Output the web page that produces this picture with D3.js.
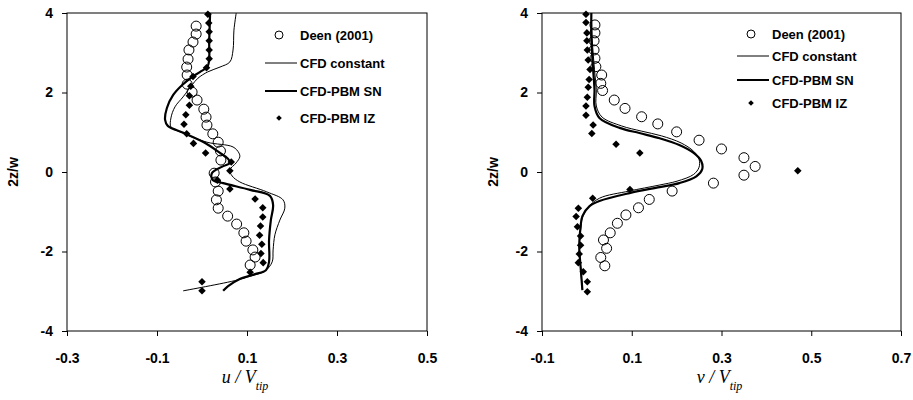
<!DOCTYPE html>
<html>
<head>
<meta charset="utf-8">
<script src="https://cdn.jsdelivr.net/npm/d3@7"></script>
<style>
body { margin: 0; background: #fff; }
svg text { font-family: Arial, "Liberation Sans", sans-serif; }
</style>
</head>
<body>
<svg width="913" height="400"></svg>
<script>
'use strict';

// tick values
var zTicks = [-4, -2, 0, 2, 4];
var uTicks = [-0.3, -0.1, 0.1, 0.3, 0.5];
var vTicks = [-0.1, 0.1, 0.3, 0.5, 0.7];

var legendNames = ["Deen (2001)", "CFD constant", "CFD-PBM SN", "CFD-PBM IZ"];

// left panel, [u, 2z/w]
var deenU = [[-0.013,3.67],[-0.013,3.47],[-0.020,3.27],[-0.029,3.07],[-0.031,2.84],[-0.034,2.64],
  [-0.033,2.44],[-0.033,2.21],[-0.022,2.01],[-0.011,1.81],[0.004,1.58],[0.009,1.38],[0.011,1.18],
  [0.024,0.96],[0.036,0.75],[0.041,0.53],[0.042,0.30],[0.027,-0.03],[0.030,-0.25],[0.036,-0.48],
  [0.032,-0.70],[0.036,-0.91],[0.057,-1.11],[0.077,-1.31],[0.093,-1.53],[0.098,-1.74],
  [0.113,-1.96],[0.118,-2.14],[0.107,-2.34]];
var constU = [[0.076,4.0],[0.071,3.57],[0.069,3.07],[0.062,2.77],[0.040,2.64],[0.013,2.52],
  [-0.009,2.36],[-0.022,2.19],[-0.042,1.89],[-0.060,1.64],[-0.069,1.36],[-0.069,1.13],
  [-0.049,1.01],[0.011,0.75],[0.069,0.63],[0.082,0.48],[0.084,0.38],[0.076,0.23],[0.062,0.05],
  [0.067,-0.10],[0.084,-0.25],[0.144,-0.50],[0.180,-0.70],[0.184,-0.91],[0.173,-1.21],
  [0.162,-1.58],[0.158,-1.96],[0.156,-2.26],[0.140,-2.49],[0.107,-2.62],[0.078,-2.72],[-0.042,-2.99]];
var snU = [[0.018,4.0],[0.016,3.32],[0.013,2.67],[-0.004,2.52],[-0.022,2.39],[-0.044,2.19],
  [-0.064,1.94],[-0.078,1.61],[-0.082,1.31],[-0.076,1.16],[-0.040,0.98],[0.007,0.73],
  [0.040,0.48],[0.058,0.33],[0.062,0.23],[0.044,0.13],[0.022,-0.03],[0.024,-0.20],[0.047,-0.28],
  [0.107,-0.45],[0.151,-0.60],[0.158,-0.83],[0.153,-1.21],[0.149,-1.71],[0.149,-2.26],
  [0.142,-2.47],[0.118,-2.57],[0.084,-2.69],[0.058,-2.87],[0.047,-2.99]];
var izU = [[0.013,3.97],[0.015,3.75],[0.016,3.53],[0.016,3.30],[0.016,3.07],[0.016,2.85],
  [0.010,2.62],[-0.020,2.40],[-0.025,2.16],[-0.028,1.92],[-0.028,1.68],[-0.036,1.44],
  [-0.040,1.20],[-0.034,0.96],[-0.019,0.72],[0.008,0.48],[0.065,0.25],[0.062,0.03],
  [0.034,-0.21],[0.062,-0.43],[0.118,-0.68],[0.135,-0.90],[0.135,-1.13],[0.130,-1.36],
  [0.128,-1.59],[0.133,-1.82],[0.131,-2.05],[0.136,-2.28],[0.107,-2.52],[0.0,-2.76],[0.0,-2.99]];

// right panel, [v, 2z/w]
var deenV = [[0.018,3.70],[0.018,3.50],[0.016,3.30],[0.016,3.07],[0.018,2.86],[0.020,2.65],
  [0.033,2.44],[0.031,2.23],[0.035,2.05],[0.061,1.81],[0.085,1.60],[0.122,1.39],[0.158,1.21],
  [0.200,1.01],[0.250,0.80],[0.300,0.58],[0.350,0.36],[0.375,0.14],[0.350,-0.08],[0.282,-0.28],
  [0.190,-0.48],[0.139,-0.69],[0.115,-0.90],[0.087,-1.08],[0.068,-1.29],[0.052,-1.53],
  [0.037,-1.71],[0.044,-1.92],[0.031,-2.15],[0.040,-2.36]];
var constV = [[0.010,4.0],[0.012,3.32],[0.017,2.57],[0.021,2.07],[0.021,1.66],[0.034,1.38],
  [0.077,1.16],[0.121,1.03],[0.166,0.91],[0.210,0.73],[0.238,0.52],[0.250,0.32],[0.250,0.12],
  [0.238,-0.06],[0.201,-0.23],[0.161,-0.33],[0.094,-0.48],[0.028,-0.66],[0.001,-0.91],
  [-0.010,-1.16],[-0.014,-1.46],[-0.017,-1.88],[-0.014,-2.38],[-0.010,-2.97]];
var snV = [[0.010,4.0],[0.010,3.32],[0.014,2.57],[0.017,2.07],[0.017,1.66],[0.028,1.36],
  [0.073,1.11],[0.117,0.98],[0.162,0.85],[0.206,0.68],[0.238,0.48],[0.255,0.27],[0.257,0.07],
  [0.244,-0.11],[0.206,-0.28],[0.162,-0.38],[0.095,-0.53],[0.028,-0.73],[0.006,-0.86],
  [-0.010,-1.11],[-0.014,-1.38],[-0.017,-1.88],[-0.014,-2.38],[-0.010,-2.97]];
var izV = [[-0.002,3.97],[-0.002,3.76],[0.0,3.50],[0.0,3.30],[0.001,3.07],[0.003,2.82],
  [0.007,2.58],[0.005,2.33],[0.003,2.13],[0.001,1.88],[-0.002,1.66],[-0.002,1.43],
  [0.014,1.18],[0.011,0.97],[0.065,0.70],[0.118,0.48],[0.470,0.03],[0.096,-0.44],
  [0.013,-0.66],[-0.019,-0.91],[-0.024,-1.12],[-0.021,-1.38],[-0.014,-1.61],[-0.014,-1.84],
  [-0.017,-2.06],[-0.019,-2.28],[-0.008,-2.51],[0.001,-2.76],[0.001,-3.01]];

var svg = d3.select("svg");
var plotTop = 13, plotBottom = 331;

function drawPanel(opt) {
  var x = d3.scaleLinear().domain([opt.ticks[0], opt.ticks[opt.ticks.length - 1]]).range([opt.left, opt.right]);
  var y = d3.scaleLinear().domain([-4, 4]).range([plotBottom, plotTop]);
  var g = svg.append("g");

  // frame
  g.append("rect")
    .attr("x", opt.left).attr("y", plotTop)
    .attr("width", opt.right - opt.left).attr("height", plotBottom - plotTop)
    .attr("fill", "none").attr("stroke", "#000").attr("stroke-width", 1);

  var xAxis = g.append("g")
    .attr("transform", "translate(0," + plotBottom + ")")
    .call(d3.axisBottom(x).tickValues(opt.ticks).tickSize(5).tickPadding(17)
      .tickFormat(function(d) { return d3.format(".1f")(d).replace("−", "-"); }));
  var yAxis = g.append("g")
    .attr("transform", "translate(" + opt.left + ",0)")
    .call(d3.axisLeft(y).tickValues(zTicks).tickSize(5).tickPadding(9)
      .tickFormat(function(d) { return String(d); }));
  [xAxis, yAxis].forEach(function(a) {
    a.select(".domain").remove();
    a.selectAll("line").attr("stroke", "#000");
    a.selectAll("text")
      .attr("fill", "#000")
      .style("font-size", "14px")
      .style("font-weight", "bold")
      .style("font-family", "Arial, 'Liberation Sans', sans-serif");
  });

  // y title
  g.append("text")
    .attr("transform", "translate(" + opt.yTitleX + "," + y(0) + ") rotate(-90)")
    .attr("text-anchor", "middle")
    .style("font-size", "14px").style("font-weight", "bold")
    .text("2z/w");

  // x title
  var t = g.append("text")
    .attr("x", (opt.left + opt.right) / 2 - 2)
    .attr("y", 383)
    .attr("text-anchor", "middle")
    .style("font-family", "'Liberation Serif', 'Times New Roman', serif")
    .style("font-size", "18px")
    .style("font-style", "italic");
  t.append("tspan").text(opt.varName + " / V");
  t.append("tspan").attr("dy", 7).style("font-size", "12px").text("tip");

  var line = d3.line()
    .x(function(d) { return x(d[0]); })
    .y(function(d) { return y(d[1]); })
    .curve(d3.curveCatmullRom);

  g.append("path").datum(opt.constLine)
    .attr("d", line).attr("fill", "none").attr("stroke", "#000").attr("stroke-width", 1);
  g.append("path").datum(opt.snLine)
    .attr("d", line).attr("fill", "none").attr("stroke", "#000").attr("stroke-width", 2.2);

  var diamond = d3.symbol().type(d3.symbolDiamond2).size(36);
  g.selectAll(".iz").data(opt.iz).enter().append("path")
    .attr("class", "iz")
    .attr("transform", function(d) { return "translate(" + x(d[0]) + "," + y(d[1]) + ")"; })
    .attr("d", diamond)
    .attr("fill", "#000");

  g.selectAll(".deen").data(opt.deen).enter().append("circle")
    .attr("class", "deen")
    .attr("cx", function(d) { return x(d[0]); })
    .attr("cy", function(d) { return y(d[1]); })
    .attr("r", 5)
    .attr("fill", "none").attr("stroke", "#000").attr("stroke-width", 1);

  // legend
  var lg = g.append("g");
  legendNames.forEach(function(name, i) {
    var ly = opt.legendY[i];
    var row = lg.append("g");
    if (i === 0) {
      row.append("circle").attr("cx", opt.legendX + 14).attr("cy", ly).attr("r", 4)
        .attr("fill", "none").attr("stroke", "#000");
    } else if (i === 3) {
      row.append("path").attr("transform", "translate(" + (opt.legendX + 14) + "," + ly + ")")
        .attr("d", d3.symbol().type(d3.symbolDiamond2).size(20)).attr("fill", "#000");
    } else {
      row.append("line").attr("x1", opt.legendX).attr("x2", opt.legendX + 32)
        .attr("y1", ly).attr("y2", ly)
        .attr("stroke", "#000").attr("stroke-width", i === 1 ? 1 : 2);
    }
    row.append("text").attr("x", opt.legendX + 35).attr("y", ly).attr("dy", "0.36em")
      .style("font-size", "13px").style("font-weight", "bold").text(name);
  });
}

drawPanel({
  left: 67, right: 427, ticks: uTicks, varName: "u", yTitleX: 18,
  deen: deenU, constLine: constU, snLine: snU, iz: izU,
  legendX: 265, legendY: [35, 63, 91, 118]
});
drawPanel({
  left: 542, right: 901, ticks: vTicks, varName: "v", yTitleX: 498,
  deen: deenV, constLine: constV, snLine: snV, iz: izV,
  legendX: 737, legendY: [34, 56, 80, 103]
});
</script>
</body>
</html>
